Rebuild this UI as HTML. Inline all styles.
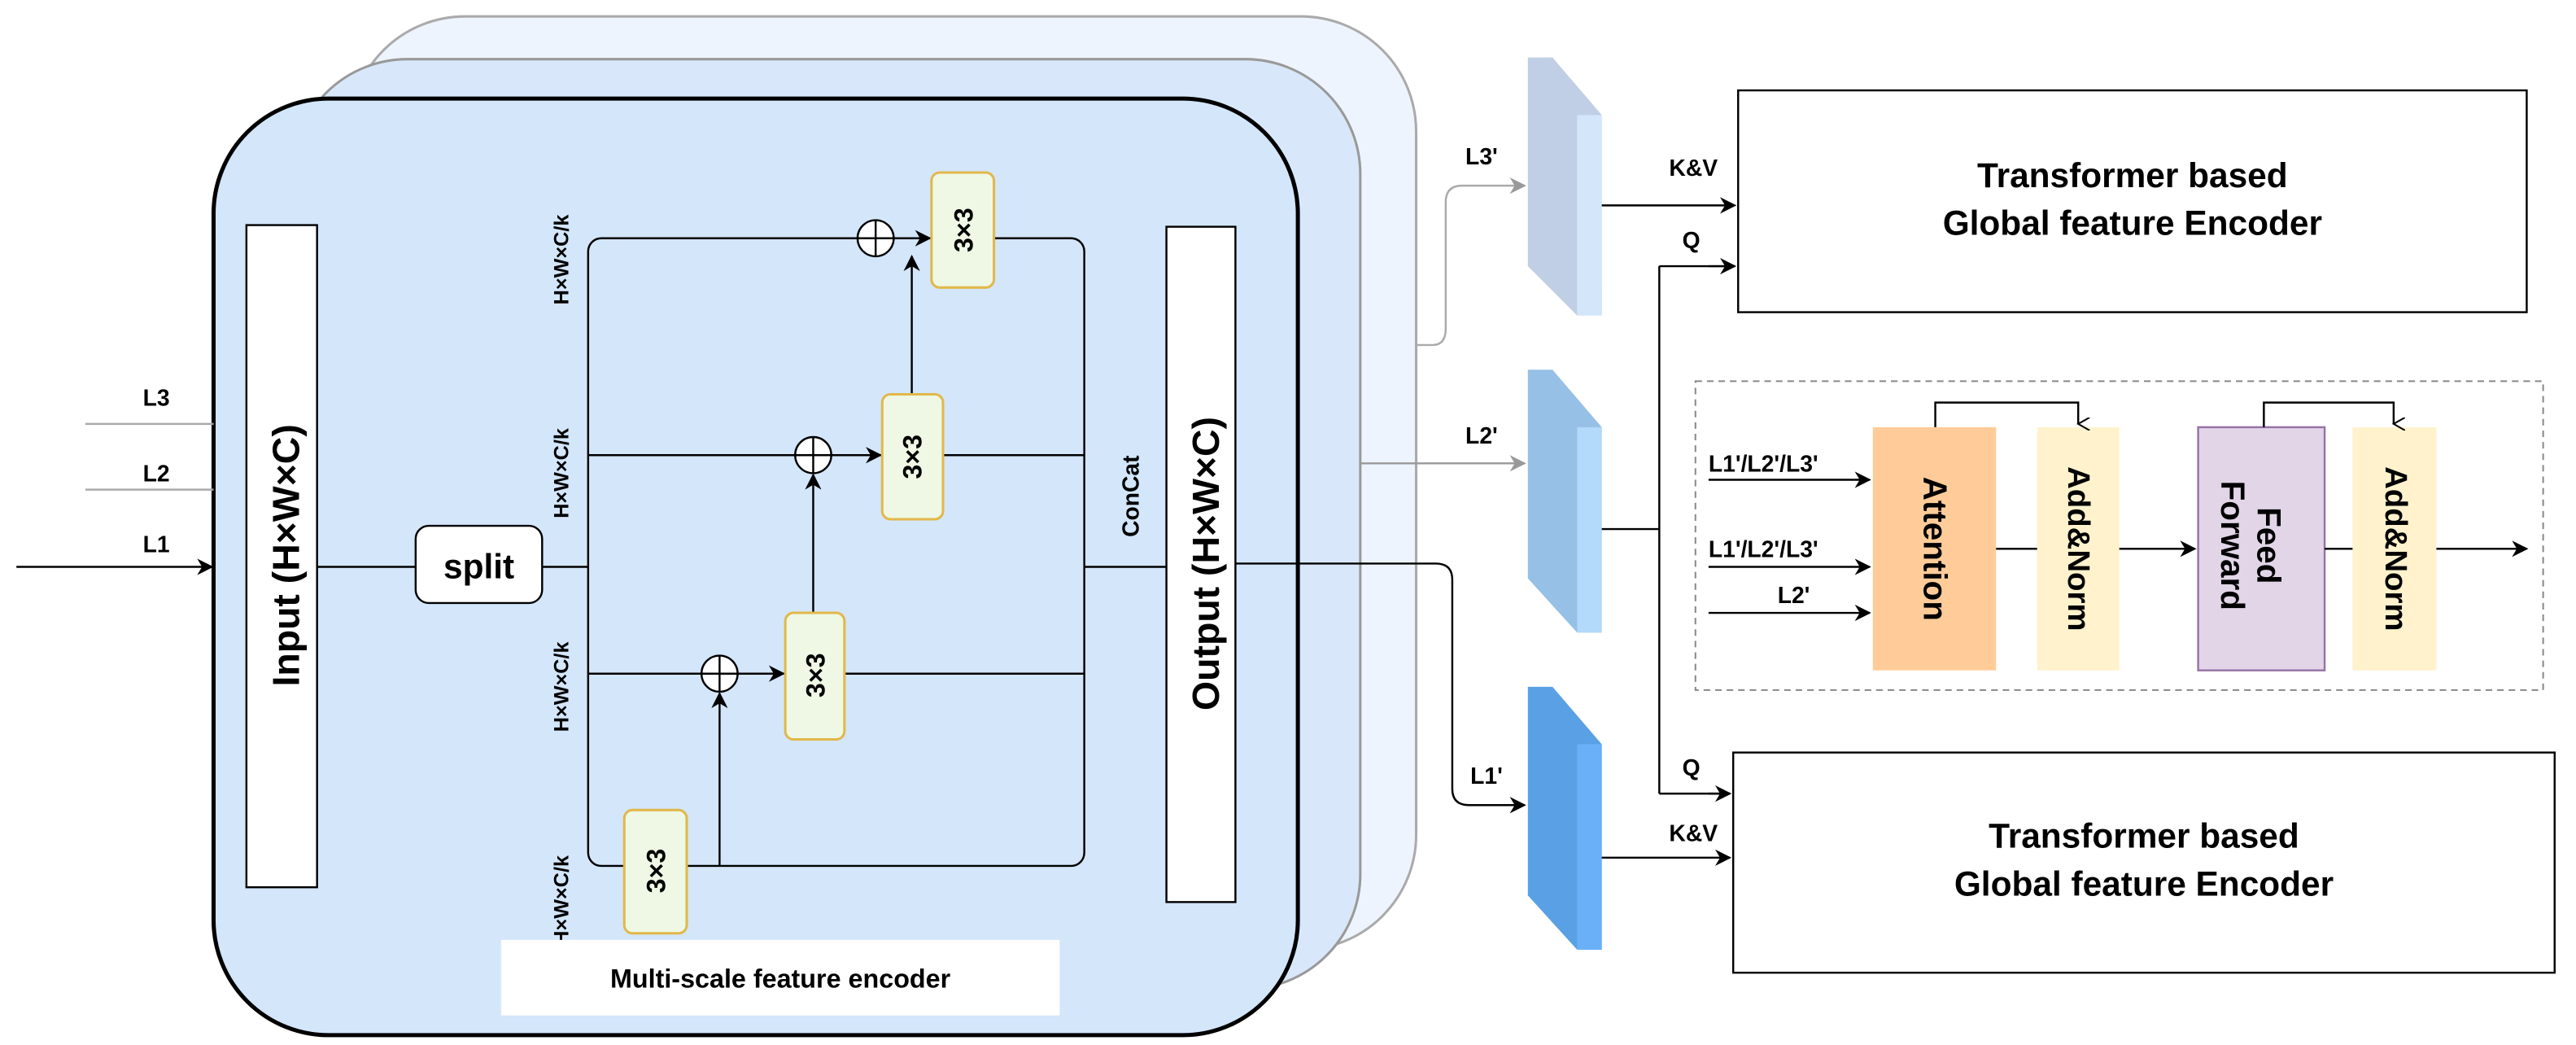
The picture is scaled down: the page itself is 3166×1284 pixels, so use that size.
<!DOCTYPE html>
<html><head><meta charset="utf-8"><style>html,body{margin:0;padding:0;background:#fff}svg{display:block}</style></head>
<body>
<svg width="3166" height="1284" viewBox="0 0 1568 636" preserveAspectRatio="none" xmlns="http://www.w3.org/2000/svg" font-family="Liberation Sans, sans-serif">
<defs>
<marker id="a" markerWidth="10" markerHeight="10" refX="9" refY="5" orient="auto" markerUnits="userSpaceOnUse"><path d="M0,0 L10,5 L0,10 L3,5 z" fill="#000"/></marker>
<marker id="g" markerWidth="10" markerHeight="10" refX="9" refY="5" orient="auto" markerUnits="userSpaceOnUse"><path d="M0,0 L10,5 L0,10 L3,5 z" fill="#999"/></marker>
<marker id="o" markerWidth="8" markerHeight="8" refX="4" refY="7" orient="auto" markerUnits="userSpaceOnUse"><path d="M0,0 L4,7 L8,0" fill="none" stroke="#000" stroke-width="1"/></marker>
</defs>
<rect x="213" y="10" width="649" height="568" rx="70" fill="#eef4fd" stroke="#aaa" stroke-width="1.5"/>
<rect x="178" y="36" width="650" height="566" rx="70" fill="#d8e8fa" stroke="#999" stroke-width="1.5"/>
<rect x="130" y="60" width="660" height="570" rx="70" fill="#d3e6fa" stroke="#000" stroke-width="2.5"/>
<line x1="52" y1="258" x2="130" y2="258" stroke="#aaa" stroke-width="1.2"/>
<line x1="52" y1="298" x2="130" y2="298" stroke="#aaa" stroke-width="1.2"/>
<line x1="10" y1="345" x2="129" y2="345" stroke="#000" stroke-width="1.2" marker-end="url(#a)"/>
<g font-size="14" font-weight="bold"><text x="87" y="247">L3</text><text x="87" y="293">L2</text><text x="87" y="336">L1</text></g>
<rect x="150" y="137" width="43" height="403" fill="#fff" stroke="#000" stroke-width="1.2"/>
<text transform="translate(182,338) rotate(-90)" text-anchor="middle" font-size="23" font-weight="bold">Input (H×W×C)</text>
<rect x="710" y="138" width="42" height="411" fill="#fff" stroke="#000" stroke-width="1.2"/>
<text transform="translate(742,343) rotate(-90)" text-anchor="middle" font-size="23" font-weight="bold">Output (H×W×C)</text>
<line x1="193" y1="345" x2="253" y2="345" stroke="#000" stroke-width="1.2"/>
<rect x="253" y="320" width="77" height="47" rx="8" fill="#fff" stroke="#000" stroke-width="1.2"/>
<text x="291.5" y="352" text-anchor="middle" font-size="21" font-weight="bold">split</text>
<line x1="330" y1="345" x2="358" y2="345" stroke="#000" stroke-width="1.2"/>
<rect x="358" y="145" width="302" height="382" rx="8" fill="none" stroke="#000" stroke-width="1.2"/>
<line x1="358" y1="277" x2="660" y2="277" stroke="#000" stroke-width="1.2"/>
<line x1="358" y1="410" x2="660" y2="410" stroke="#000" stroke-width="1.2"/>
<line x1="660" y1="345" x2="710" y2="345" stroke="#000" stroke-width="1.2"/>
<line x1="438" y1="527" x2="438" y2="422" stroke="#000" stroke-width="1.2" marker-end="url(#a)"/>
<line x1="495" y1="373" x2="495" y2="289" stroke="#000" stroke-width="1.2" marker-end="url(#a)"/>
<line x1="555" y1="240" x2="555" y2="156" stroke="#000" stroke-width="1.2" marker-end="url(#a)"/>
<line x1="449" y1="410" x2="477" y2="410" stroke="#000" stroke-width="1.2" marker-end="url(#a)"/>
<line x1="506" y1="277" x2="536" y2="277" stroke="#000" stroke-width="1.2" marker-end="url(#a)"/>
<line x1="544" y1="145" x2="566" y2="145" stroke="#000" stroke-width="1.2" marker-end="url(#a)"/>
<g fill="#fff" stroke="#000" stroke-width="1.2">
<circle cx="438" cy="410" r="11"/><circle cx="495" cy="277" r="11"/><circle cx="533" cy="145" r="11"/></g>
<g stroke="#000" stroke-width="1.2">
<line x1="427" y1="410" x2="449" y2="410"/><line x1="438" y1="399" x2="438" y2="421"/>
<line x1="484" y1="277" x2="506" y2="277"/><line x1="495" y1="266" x2="495" y2="288"/>
<line x1="522" y1="145" x2="544" y2="145"/><line x1="533" y1="134" x2="533" y2="156"/></g>
<g fill="#eef8e4" stroke="#e2b84a" stroke-width="1.5">
<rect x="567" y="105" width="38" height="70" rx="5"/>
<rect x="537" y="240" width="37" height="76" rx="5"/>
<rect x="478" y="373" width="36" height="77" rx="5"/>
<rect x="380" y="493" width="38" height="75" rx="5"/></g>
<g font-size="16" font-weight="bold" text-anchor="middle">
<text transform="translate(592,140) rotate(-90)">3×3</text>
<text transform="translate(561,278) rotate(-90)">3×3</text>
<text transform="translate(502,411) rotate(-90)">3×3</text>
<text transform="translate(405,530) rotate(-90)">3×3</text>
<g font-size="12.5">
<text transform="translate(346,158) rotate(-90)">H×W×C/k</text>
<text transform="translate(346,288) rotate(-90)">H×W×C/k</text>
<text transform="translate(346,418) rotate(-90)">H×W×C/k</text>
<text transform="translate(346,548) rotate(-90)">H×W×C/k</text></g>
<text transform="translate(693,302) rotate(-90)" font-size="14">ConCat</text>
</g>
<rect x="305" y="572" width="340" height="46" fill="#fff"/>
<text x="475" y="601" text-anchor="middle" font-size="16" font-weight="bold">Multi-scale feature encoder</text>
<path d="M862,210 L872,210 Q880,210 880,200 L880,123 Q880,113 890,113 L928,113" fill="none" stroke="#aaa" stroke-width="1.2" marker-end="url(#g)"/>
<line x1="828" y1="282" x2="928" y2="282" stroke="#999" stroke-width="1.2" marker-end="url(#g)"/>
<path d="M752,343 L874,343 Q884,343 884,353 L884,480 Q884,490 894,490 L928,490" fill="none" stroke="#000" stroke-width="1.2" marker-end="url(#a)"/>
<g font-size="14" font-weight="bold"><text x="892" y="100">L3'</text><text x="892" y="270">L2'</text><text x="895" y="477">L1'</text></g>
<polygon points="930,35 945,35 975,70 975,192 960,192 930,162" fill="#c0cfe6"/>
<rect x="960" y="70" width="15" height="122" fill="#d3e6fa"/>
<polygon points="930,225 945,225 975,260 975,385 960,385 930,352" fill="#96c0e6"/>
<rect x="960" y="260" width="15" height="125" fill="#b3d9fb"/>
<polygon points="930,418 945,418 975,453 975,578 960,578 930,545" fill="#5aa0e4"/>
<rect x="960" y="453" width="15" height="125" fill="#6ab0f8"/>
<line x1="975" y1="125" x2="1056" y2="125" stroke="#000" stroke-width="1.2" marker-end="url(#a)"/>
<path d="M975,322 L1010,322 M1010,162 L1010,483 M1010,162 L1056,162 M1010,483 L1053,483" fill="none" stroke="#000" stroke-width="1.2"/>
<line x1="1040" y1="162" x2="1056" y2="162" stroke="#000" stroke-width="1.2" marker-end="url(#a)"/>
<line x1="1040" y1="483" x2="1053" y2="483" stroke="#000" stroke-width="1.2" marker-end="url(#a)"/>
<line x1="975" y1="522" x2="1053" y2="522" stroke="#000" stroke-width="1.2" marker-end="url(#a)"/>
<g font-size="14" font-weight="bold"><text x="1016" y="107">K&amp;V</text><text x="1024" y="151">Q</text><text x="1024" y="472">Q</text><text x="1016" y="512">K&amp;V</text></g>
<rect x="1058" y="55" width="480" height="135" fill="#fff" stroke="#000" stroke-width="1.2"/>
<rect x="1055" y="458" width="500" height="134" fill="#fff" stroke="#000" stroke-width="1.2"/>
<g font-size="21" font-weight="bold" text-anchor="middle">
<text x="1298" y="114">Transformer based</text><text x="1298" y="143">Global feature Encoder</text>
<text x="1305" y="516">Transformer based</text><text x="1305" y="545">Global feature Encoder</text></g>
<rect x="1032" y="232" width="516" height="188" fill="none" stroke="#888" stroke-width="1" stroke-dasharray="4,3"/>
<rect x="1140" y="260" width="75" height="148" fill="#ffcc99"/>
<rect x="1240" y="260" width="50" height="148" fill="#fff2cc"/>
<rect x="1338" y="260" width="77" height="148" fill="#e1d5e7" stroke="#9673a6" stroke-width="1.2"/>
<rect x="1432" y="260" width="51" height="148" fill="#fff2cc"/>
<g font-size="20" font-weight="bold" text-anchor="middle">
<text transform="translate(1171,334) rotate(90)">Attention</text>
<text transform="translate(1259,334) rotate(90)" font-size="19">Add&amp;Norm</text>
<text transform="translate(1374,332) rotate(90)">Feed</text>
<text transform="translate(1352,332) rotate(90)">Forward</text>
<text transform="translate(1452,334) rotate(90)" font-size="19">Add&amp;Norm</text></g>
<g stroke="#000" stroke-width="1.2" fill="none">
<line x1="1040" y1="292" x2="1138" y2="292" marker-end="url(#a)"/>
<line x1="1040" y1="345" x2="1138" y2="345" marker-end="url(#a)"/>
<line x1="1040" y1="373" x2="1138" y2="373" marker-end="url(#a)"/>
<line x1="1215" y1="334" x2="1240" y2="334"/>
<line x1="1290" y1="334" x2="1336" y2="334" marker-end="url(#a)"/>
<line x1="1415" y1="334" x2="1432" y2="334"/>
<line x1="1483" y1="334" x2="1538" y2="334" marker-end="url(#a)"/>
<path d="M1178,260 L1178,245 L1265,245 L1265,258" marker-end="url(#o)"/>
<path d="M1378,260 L1378,245 L1457,245 L1457,258" marker-end="url(#o)"/>
</g>
<g font-size="14" font-weight="bold">
<text x="1040" y="287">L1'/L2'/L3'</text><text x="1040" y="339">L1'/L2'/L3'</text><text x="1082" y="367">L2'</text></g>
</svg>
</body></html>
